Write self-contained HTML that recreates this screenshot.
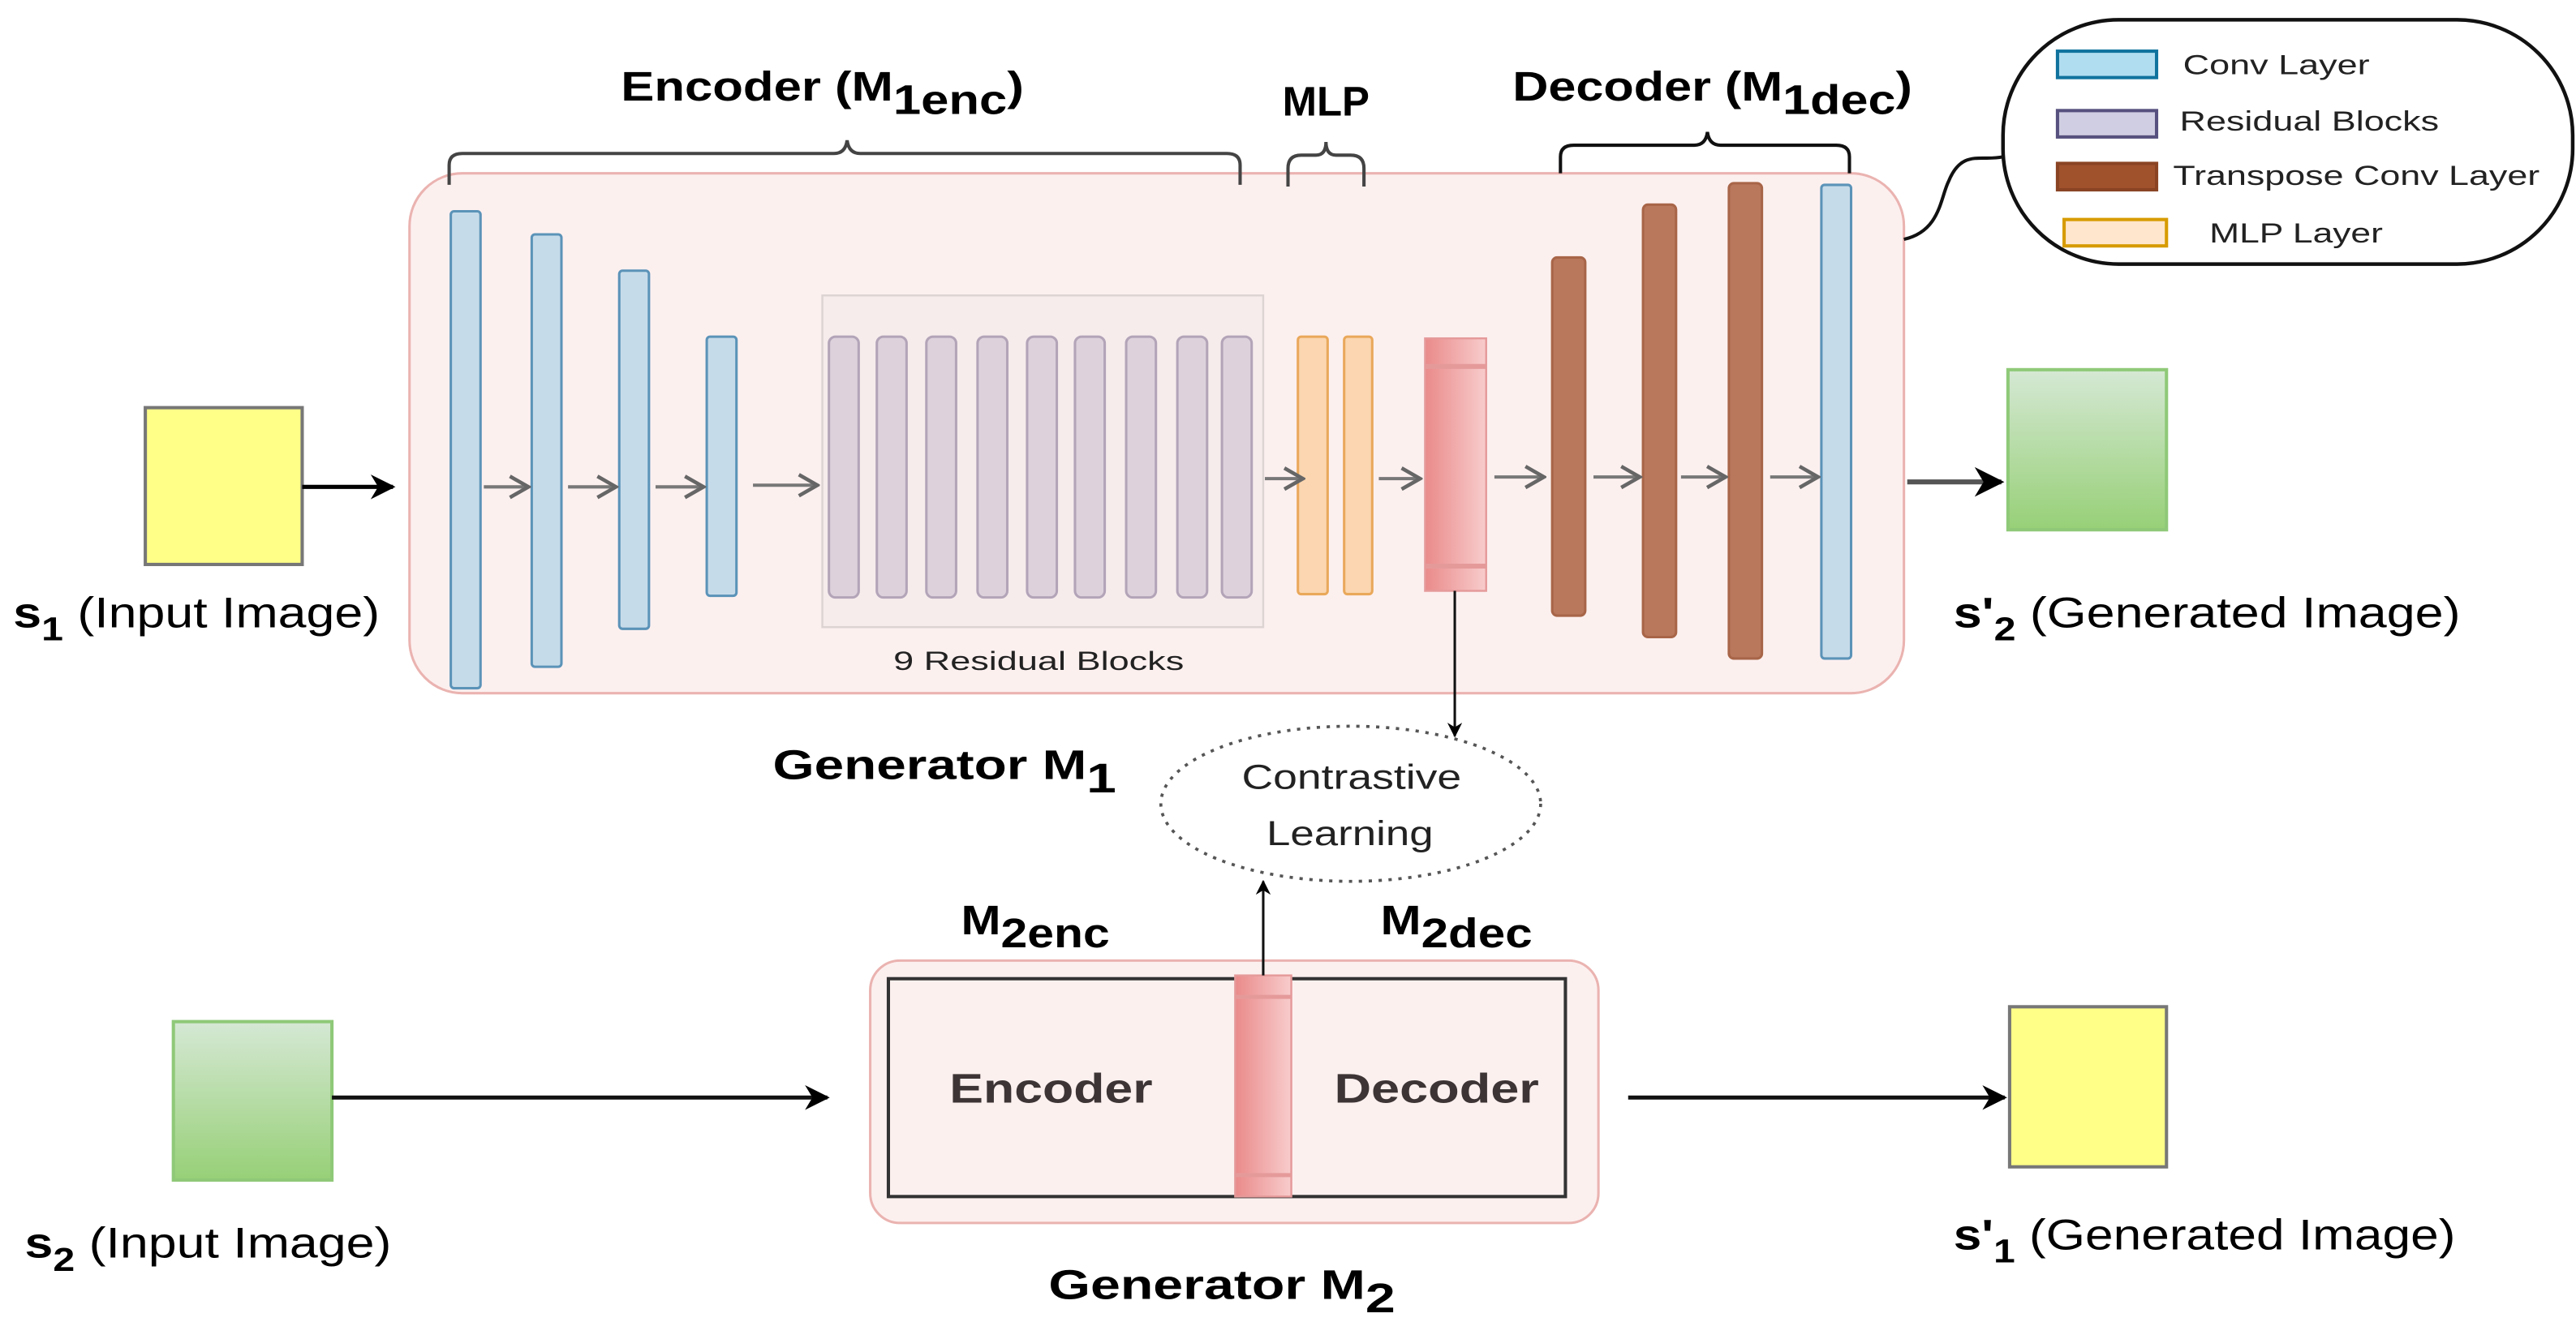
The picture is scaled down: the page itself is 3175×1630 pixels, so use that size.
<!DOCTYPE html>
<html><head><meta charset="utf-8"><style>
html,body{margin:0;padding:0;background:#fff;}
svg{display:block;}
text{font-family:"Liberation Sans",Arial,sans-serif;}
</style></head><body>
<svg width="3175" height="1630" viewBox="0 0 1560 801" preserveAspectRatio="none" xmlns="http://www.w3.org/2000/svg">
<defs>
<linearGradient id="gr" x1="0" y1="0" x2="0" y2="1"><stop offset="0" stop-color="#d5e8d4"/><stop offset="1" stop-color="#97d077"/></linearGradient>
<linearGradient id="pk" x1="0" y1="0" x2="1" y2="0"><stop offset="0" stop-color="#ea8a8a"/><stop offset="1" stop-color="#f8cccc"/></linearGradient>
<marker id="ah" viewBox="0 0 10 10" refX="9" refY="5" markerWidth="6" markerHeight="6" orient="auto"><path d="M0,0 L10,5 L0,10 L3,5z" fill="#000"/></marker>
<marker id="oa" viewBox="0 0 10 10" refX="9" refY="5" markerWidth="8" markerHeight="8" orient="auto"><path d="M2,1 L9,5 L2,9" fill="none" stroke="#666" stroke-width="1.4"/></marker>
</defs>

<rect x="248" y="105" width="905" height="315" rx="32" fill="#fcf0ef" stroke="#eab3b0" stroke-width="1.5"/>
<g fill="none" stroke="#444" stroke-width="2">
<path d="M272,112 V100 Q272,93 280,93 H505 Q512,93 513,85 Q514,93 521,93 H743 Q751,93 751,100 V112"/>
<path d="M780,113 V102 Q780,94 788,94 H797 Q803,94 803,86 Q803,94 809,94 H818 Q826,94 826,102 V113"/>
<path d="M945,105 V95 Q945,88 953,88 H1026 Q1033,88 1034,80 Q1035,88 1042,88 H1112 Q1120,88 1120,95 V105" stroke="#111"/>
</g>
<text x="376" y="61" font-size="25" font-weight="bold" textLength="244" lengthAdjust="spacingAndGlyphs">Encoder (M<tspan dy="8">1enc</tspan><tspan dy="-8">)</tspan></text>
<text x="803" y="70" font-size="25" font-weight="bold" text-anchor="middle">MLP</text>
<text x="916" y="61" font-size="25" font-weight="bold" textLength="242" lengthAdjust="spacingAndGlyphs">Decoder (M<tspan dy="8">1dec</tspan><tspan dy="-8">)</tspan></text>

<g fill="#c6dbe9" stroke="#5b93b8" stroke-width="1.5">
<rect x="273" y="128" width="18" height="289" rx="2"/>
<rect x="322" y="142" width="18" height="262" rx="2"/>
<rect x="375" y="164" width="18" height="217" rx="2"/>
<rect x="428" y="204" width="18" height="157" rx="2"/>
<rect x="1103" y="112" width="18" height="287" rx="2"/>
</g>
<rect x="498" y="179" width="267" height="201" fill="#f6ecec" stroke="#dcd3d3" stroke-width="1.2"/>
<g fill="#ddd2dc" stroke="#b3a4b8" stroke-width="1.5">
<rect x="502" y="204" width="18" height="158" rx="4"/>
<rect x="531" y="204" width="18" height="158" rx="4"/>
<rect x="561" y="204" width="18" height="158" rx="4"/>
<rect x="592" y="204" width="18" height="158" rx="4"/>
<rect x="622" y="204" width="18" height="158" rx="4"/>
<rect x="651" y="204" width="18" height="158" rx="4"/>
<rect x="682" y="204" width="18" height="158" rx="4"/>
<rect x="713" y="204" width="18" height="158" rx="4"/>
<rect x="740" y="204" width="18" height="158" rx="4"/>
</g>
<text x="541" y="406" font-size="16" fill="#222" textLength="176" lengthAdjust="spacingAndGlyphs">9 Residual Blocks</text>
<g fill="#fbd6b0" stroke="#e9a85a" stroke-width="1.5">
<rect x="786" y="204" width="18" height="156" rx="2"/>
<rect x="814" y="204" width="17" height="156" rx="2"/>
</g>
<rect x="863" y="205" width="37" height="153" fill="url(#pk)" stroke="#e59a9a" stroke-width="1.2"/>
<line x1="863" y1="222" x2="900" y2="222" stroke="#e59a9a" stroke-width="3"/>
<line x1="863" y1="343" x2="900" y2="343" stroke="#e59a9a" stroke-width="3"/>
<g fill="#b9775c" stroke="#a86548" stroke-width="1.5">
<rect x="940" y="156" width="20" height="217" rx="3"/>
<rect x="995" y="124" width="20" height="262" rx="3"/>
<rect x="1047" y="111" width="20" height="288" rx="3"/>
</g>
<g stroke="#777" stroke-width="2" marker-end="url(#oa)">
<line x1="293" y1="295" x2="320" y2="295"/>
<line x1="344" y1="295" x2="373" y2="295"/>
<line x1="397" y1="295" x2="426" y2="295"/>
<line x1="456" y1="294" x2="495" y2="294"/>
<line x1="766" y1="290" x2="789" y2="290"/>
<line x1="835" y1="290" x2="860" y2="290"/>
<line x1="905" y1="289" x2="935" y2="289"/>
<line x1="965" y1="289" x2="993" y2="289"/>
<line x1="1018" y1="289" x2="1045" y2="289"/>
<line x1="1072" y1="289" x2="1101" y2="289"/>
</g>

<rect x="88" y="247" width="95" height="95" fill="#ffff88" stroke="#777" stroke-width="2"/>
<line x1="183" y1="295" x2="238" y2="295" stroke="#000" stroke-width="2.5" marker-end="url(#ah)"/>
<text x="8" y="380" font-size="26" textLength="222" lengthAdjust="spacingAndGlyphs"><tspan font-weight="bold">s</tspan><tspan font-weight="bold" font-size="20" dy="8">1</tspan><tspan dy="-8"> (Input Image)</tspan></text>
<line x1="1155" y1="292" x2="1212" y2="292" stroke="#555" stroke-width="3" marker-end="url(#ah)"/>
<rect x="1216" y="224" width="96" height="97" fill="url(#gr)" stroke="#8fc978" stroke-width="2"/>
<text x="1183" y="380" font-size="26" textLength="307" lengthAdjust="spacingAndGlyphs"><tspan font-weight="bold">s'</tspan><tspan font-weight="bold" font-size="20" dy="8">2</tspan><tspan dy="-8"> (Generated Image)</tspan></text>

<rect x="1213" y="12" width="345" height="148" rx="70" ry="70" fill="#fff" stroke="#111" stroke-width="2.2"/>
<path d="M1153,145 C1175,140 1175,120 1180,110 C1188,90 1200,98 1213,95" fill="none" stroke="#111" stroke-width="2"/>
<rect x="1246" y="31" width="60" height="16" fill="#b1ddf0" stroke="#10739e" stroke-width="2"/>
<rect x="1246" y="67" width="60" height="16" fill="#d0cee2" stroke="#56517e" stroke-width="2"/>
<rect x="1246" y="99" width="60" height="16" fill="#a0522d" stroke="#8a4424" stroke-width="2"/>
<rect x="1250" y="133" width="62" height="16" fill="#ffe6cc" stroke="#d79b00" stroke-width="2"/>
<g font-size="17" fill="#222">
<text x="1322" y="45" textLength="113" lengthAdjust="spacingAndGlyphs">Conv Layer</text>
<text x="1320" y="79" textLength="157" lengthAdjust="spacingAndGlyphs">Residual Blocks</text>
<text x="1316" y="112" textLength="222" lengthAdjust="spacingAndGlyphs">Transpose Conv Layer</text>
<text x="1338" y="147" textLength="105" lengthAdjust="spacingAndGlyphs">MLP Layer</text>
</g>

<text x="468" y="472" font-size="25" font-weight="bold" textLength="208" lengthAdjust="spacingAndGlyphs">Generator M<tspan dy="8">1</tspan></text>
<line x1="881" y1="358" x2="881" y2="446" stroke="#111" stroke-width="1.5" marker-end="url(#ah)"/>
<ellipse cx="818" cy="487" rx="115" ry="47" fill="#fff" stroke="#555" stroke-width="1.8" stroke-dasharray="2,4"/>
<text x="752" y="478" font-size="21" fill="#222" textLength="133" lengthAdjust="spacingAndGlyphs">Contrastive</text>
<text x="767" y="512" font-size="21" fill="#222" textLength="101" lengthAdjust="spacingAndGlyphs">Learning</text>

<text x="582" y="566" font-size="25" font-weight="bold" textLength="90" lengthAdjust="spacingAndGlyphs">M<tspan dy="8">2enc</tspan></text>
<text x="836" y="566" font-size="25" font-weight="bold" textLength="92" lengthAdjust="spacingAndGlyphs">M<tspan dy="8">2dec</tspan></text>
<rect x="527" y="582" width="441" height="159" rx="18" fill="#fcf0ef" stroke="#eab3b0" stroke-width="1.5"/>
<rect x="538" y="593" width="410" height="132" fill="#fcf0ef" stroke="#333" stroke-width="2"/>
<rect x="748" y="591" width="34" height="134" fill="url(#pk)" stroke="#e59a9a" stroke-width="1.2"/>
<line x1="748" y1="604" x2="782" y2="604" stroke="#e59a9a" stroke-width="2.5"/>
<line x1="748" y1="712" x2="782" y2="712" stroke="#e59a9a" stroke-width="2.5"/>
<line x1="765" y1="591" x2="765" y2="534" stroke="#111" stroke-width="1.5" marker-end="url(#ah)"/>
<text x="575" y="668" font-size="25" font-weight="bold" fill="#3d3535" textLength="123" lengthAdjust="spacingAndGlyphs">Encoder</text>
<text x="808" y="668" font-size="25" font-weight="bold" fill="#3d3535" textLength="124" lengthAdjust="spacingAndGlyphs">Decoder</text>
<text x="635" y="787" font-size="25" font-weight="bold" textLength="210" lengthAdjust="spacingAndGlyphs">Generator M<tspan dy="8">2</tspan></text>

<rect x="105" y="619" width="96" height="96" fill="url(#gr)" stroke="#8fc978" stroke-width="2"/>
<line x1="201" y1="665" x2="501" y2="665" stroke="#111" stroke-width="2.5" marker-end="url(#ah)"/>
<text x="15" y="762" font-size="26" textLength="222" lengthAdjust="spacingAndGlyphs"><tspan font-weight="bold">s</tspan><tspan font-weight="bold" font-size="20" dy="8">2</tspan><tspan dy="-8"> (Input Image)</tspan></text>
<line x1="986" y1="665" x2="1214" y2="665" stroke="#111" stroke-width="2.5" marker-end="url(#ah)"/>
<rect x="1217" y="610" width="95" height="97" fill="#ffff88" stroke="#777" stroke-width="2"/>
<text x="1183" y="757" font-size="26" textLength="304" lengthAdjust="spacingAndGlyphs"><tspan font-weight="bold">s'</tspan><tspan font-weight="bold" font-size="20" dy="8">1</tspan><tspan dy="-8"> (Generated Image)</tspan></text>
</svg>
</body></html>
